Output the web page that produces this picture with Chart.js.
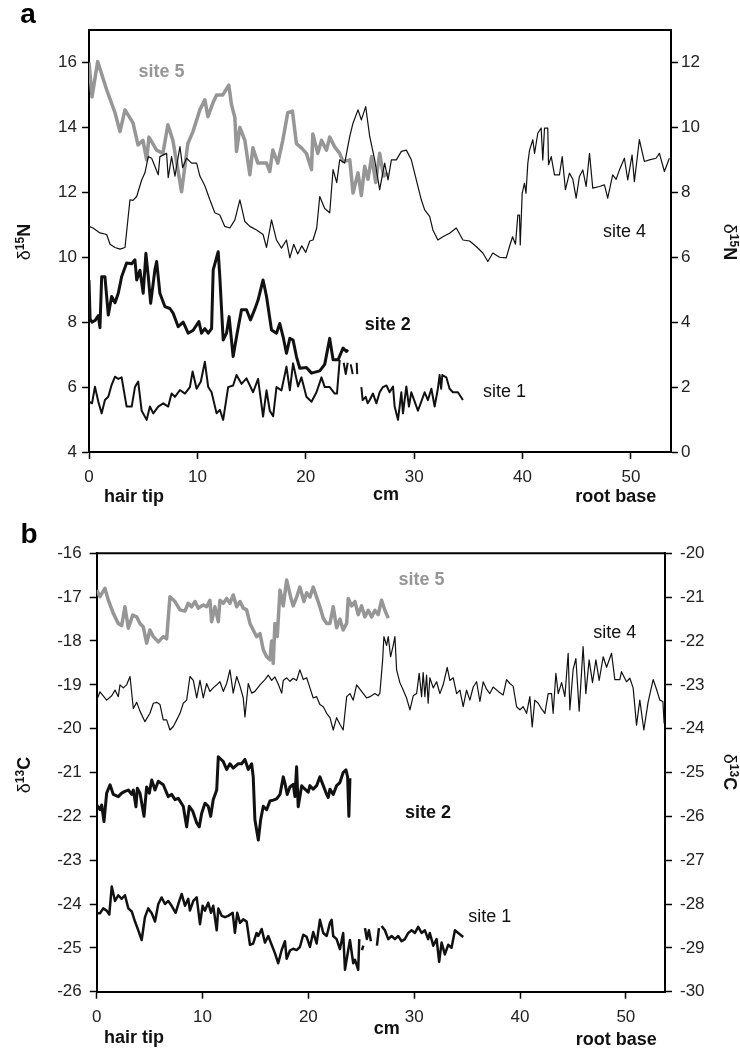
<!DOCTYPE html>
<html>
<head>
<meta charset="utf-8">
<script src="https://cdn.jsdelivr.net/npm/chart.js@4.4.1/dist/chart.umd.min.js"></script>
<style>
  html, body { margin: 0; padding: 0; background: #fff; }
  .panel { position: absolute; left: 0; width: 740px; }
  #panelA { top: 0; height: 520px; }
  #panelB { top: 520px; height: 533px; }
</style>
</head>
<body>
<div class="panel" id="panelA"><canvas id="chartA"></canvas></div>
<div class="panel" id="panelB"><canvas id="chartB"></canvas></div>
<script>
// tick labels
const xTicks = [0, 10, 20, 30, 40, 50];
const nLeftTicks = [4, 6, 8, 10, 12, 14, 16];
const nRightTicks = [0, 2, 4, 6, 8, 10, 12];
const cLeftTicks = [-26, -25, -24, -23, -22, -21, -20, -19, -18, -17, -16];
const cRightTicks = [-30, -29, -28, -27, -26, -25, -24, -23, -22, -21, -20];

// panel a, d15N: [cm from hair tip, value]  (site 4 read on the right axis)
const site5N = [[0,16.0],[0.28,14.94],[0.8,16.03],[1.63,15.16],[2.4,14.45],[2.86,13.87],[3.32,14.54],[4.06,14.14],[4.52,13.46],[4.98,13.6],[5.32,13.0],[5.53,13.7],[6.24,13.3],[6.82,13.2],[7.28,14.08],[7.74,13.6],[8.54,12.02],[9.12,13.5],[9.59,13.87],[10.23,14.54],[10.69,14.85],[10.97,14.33],[11.43,14.75],[11.77,15.0],[12.35,15.0],[12.9,15.3],[13.15,14.7],[13.46,14.3],[13.61,13.26],[13.92,14.0],[14.38,13.6],[14.84,12.54],[15.12,13.37],[15.58,12.9],[16.38,12.9],[16.68,12.64],[16.96,13.3],[17.42,12.9],[17.88,13.6],[18.34,14.45],[18.77,14.5],[19.14,13.5],[19.6,13.37],[20.06,13.2],[20.53,12.7],[20.65,13.8],[21.11,13.2],[21.45,13.6],[21.91,13.3],[22.21,13.7],[22.67,13.4],[23.13,13.2],[23.44,12.95],[24.06,13.0],[24.36,11.98],[24.82,12.6],[25.13,11.9],[25.44,12.8],[25.74,12.4],[26.08,13.1],[26.45,12.3],[26.82,13.2],[27.19,12.5],[27.56,12.6]];

const site4N = [[0,6.95],[0.37,6.9],[1.01,6.75],[1.63,6.7],[1.94,6.4],[2.4,6.3],[2.86,6.25],[3.32,6.3],[3.78,7.77],[4.06,7.75],[4.4,7.87],[4.86,8.38],[5.16,8.6],[5.47,9.1],[5.78,9.05],[6.39,8.54],[6.54,9.1],[7.16,9.2],[7.31,8.45],[7.62,9.1],[7.93,8.5],[8.39,9.41],[8.64,8.76],[9.0,9.05],[9.47,8.9],[9.93,8.9],[10.23,8.5],[10.69,8.2],[11.15,7.77],[11.61,7.37],[12.07,7.3],[12.53,6.95],[13.0,6.9],[13.46,7.15],[13.92,7.77],[14.38,7.1],[14.84,6.95],[15.46,6.84],[16.06,6.7],[16.38,6.3],[16.84,7.15],[17.3,6.53],[17.76,6.28],[18.22,6.53],[18.53,5.98],[18.89,6.4],[19.26,6.1],[19.63,6.35],[20.0,6.15],[20.37,6.5],[20.67,6.53],[21.01,6.9],[21.29,7.87],[21.75,7.5],[22.21,7.37],[22.52,8.7],[22.86,8.3],[23.13,9.0],[23.59,8.9],[24.06,9.72],[24.36,10.13],[24.82,10.54],[25.13,10.23],[25.53,10.64],[25.9,9.72],[26.36,9.0],[26.82,8.08],[27.28,8.9],[27.59,8.38],[27.9,9.0],[28.36,9.0],[28.82,9.26],[29.28,9.3],[29.74,9.0],[30.2,8.38],[30.66,7.77],[30.97,7.46],[31.43,7.26],[31.73,6.84],[32.19,6.53],[32.65,6.63],[33.27,6.74],[33.89,6.9],[34.5,6.53],[35.12,6.5],[35.73,6.33],[36.34,6.13],[36.8,5.87],[37.26,6.13],[37.88,6.0],[38.5,5.98],[38.8,6.33],[39.08,6.63],[39.35,6.4],[39.57,7.3],[39.72,7.3],[39.79,6.38],[39.97,7.97],[40.18,8.28],[40.32,7.97],[40.49,8.9],[40.65,9.3],[40.95,9.62],[41.11,9.2],[41.41,9.82],[41.72,9.98],[41.87,9.0],[42.03,9.98],[42.33,9.98],[42.4,8.85],[42.65,9.1],[42.95,8.54],[43.41,8.54],[43.66,9.1],[43.96,8.08],[44.33,8.59],[44.64,8.4],[44.95,7.82],[45.25,8.49],[45.56,8.69],[45.87,8.18],[46.18,9.2],[46.48,8.13],[47.1,8.18],[47.56,8.23],[47.86,7.82],[48.32,8.54],[48.64,8.4],[48.94,8.69],[49.4,9.05],[49.71,8.38],[50.11,9.15],[50.32,8.33],[50.78,9.62],[51.24,8.95],[51.71,9.0],[52.32,9.05],[52.63,9.2],[53.09,8.64],[53.55,9.05]];

const site2N = [[0,9.3],[0.1,8.1],[0.28,8.0],[0.55,8.05],[0.86,8.2],[1.01,7.83],[1.17,9.4],[1.47,9.4],[1.78,8.22],[2.09,8.79],[2.4,8.6],[2.7,8.89],[3.01,9.4],[3.47,9.82],[3.94,9.8],[4.24,9.92],[4.4,9.3],[4.7,9.6],[5.0,8.89],[5.25,10.12],[5.47,9.4],[5.69,8.58],[6.08,9.61],[6.24,9.87],[6.54,8.89],[7.0,8.48],[7.47,8.42],[7.77,8.27],[8.23,7.86],[8.69,8.0],[9.15,7.66],[9.61,7.75],[10.14,8.02],[10.38,7.66],[10.69,7.8],[11.0,7.66],[11.31,7.8],[11.46,9.61],[11.92,10.17],[12.07,9.4],[12.38,7.45],[12.69,7.66],[12.93,8.17],[13.3,6.94],[13.67,7.66],[14.07,8.38],[14.53,8.38],[14.9,8.07],[15.3,8.4],[15.6,8.68],[16.06,9.3],[16.38,8.79],[16.84,7.76],[17.3,7.66],[17.6,7.96],[17.91,7.55],[18.22,7.04],[18.53,7.5],[18.83,7.45],[19.14,6.94],[19.45,6.58],[20.06,6.6],[20.53,6.43],[21.29,6.5],[21.75,6.7],[22.21,7.5],[22.52,6.84],[22.98,6.84],[23.44,7.2],[23.75,7.1],[23.9,7.15]];

const site1N = [[0,5.55],[0.28,5.5],[0.55,6.01],[0.86,5.55],[1.17,5.19],[1.47,5.6],[1.78,5.7],[2.09,6.07],[2.4,6.32],[2.7,6.25],[3.01,6.3],[3.47,5.4],[3.94,5.4],[4.24,6.0],[4.54,6.17],[4.86,5.27],[5.32,4.99],[5.62,5.4],[5.93,5.19],[6.39,5.4],[6.85,5.5],[7.31,5.4],[7.62,5.8],[7.93,5.7],[8.39,5.91],[8.85,5.8],[9.31,6.0],[9.56,6.48],[9.93,5.95],[10.32,6.17],[10.69,6.78],[11.0,6.0],[11.31,5.84],[11.77,5.19],[12.07,5.3],[12.38,4.99],[12.84,6.0],[13.3,6.05],[13.61,6.37],[14.07,6.1],[14.53,6.27],[15.14,5.84],[15.6,6.25],[16.06,5.09],[16.38,5.9],[16.68,5.27],[16.99,5.1],[17.3,6.0],[17.76,5.9],[18.22,6.63],[18.53,5.9],[18.83,6.73],[19.29,6.02],[19.6,6.3],[20.06,5.7],[20.53,5.55],[20.99,5.84],[21.45,6.3],[21.75,6.0],[22.21,6.0],[22.67,5.8],[22.88,5.8],[23.13,6.84],[23.3,null],[23.5,6.75],[23.69,6.4],[23.87,6.75],[24.0,null],[24.15,6.7],[24.33,6.4],[24.5,null],[24.7,6.75],[24.75,6.4],[25.0,null],[25.13,6.0],[25.25,5.6],[25.53,5.7],[25.71,5.5],[25.9,5.6],[26.2,5.8],[26.52,5.5],[26.82,5.84],[27.12,6.0],[27.44,6.05],[27.74,5.84],[28.05,6.02],[28.2,5.4],[28.51,4.99],[28.82,5.84],[28.97,5.19],[29.28,6.02],[29.52,5.4],[29.74,5.84],[30.05,5.55],[30.35,5.27],[30.66,5.55],[30.97,5.84],[31.27,5.6],[31.59,5.95],[31.89,5.4],[32.19,5.95],[32.35,6.37],[32.49,5.95],[32.6,6.37],[32.97,6.3],[33.27,5.95],[33.58,5.84],[34.04,5.84],[34.5,5.6]];

// panel b, d13C: [cm from hair tip, value]  (site 4 read on the right axis)
const site5C = [[0,-16.84],[0.31,-16.99],[0.78,-16.8],[1.1,-17.07],[1.57,-17.37],[2.04,-17.6],[2.36,-17.65],[2.67,-17.22],[2.99,-17.71],[3.4,-17.41],[3.78,-17.45],[4.09,-17.6],[4.4,-17.68],[4.72,-18.05],[5.03,-17.75],[5.35,-17.9],[5.82,-18.02],[6.29,-17.9],[6.61,-17.95],[6.92,-16.99],[7.4,-17.1],[7.87,-17.29],[8.34,-17.32],[8.65,-17.14],[8.97,-17.22],[9.29,-17.1],[9.6,-17.25],[10.07,-17.18],[10.39,-17.22],[10.7,-17.07],[10.86,-17.56],[11.17,-17.22],[11.49,-17.56],[11.65,-17.07],[11.96,-17.14],[12.28,-17.03],[12.59,-17.14],[12.9,-16.95],[13.23,-17.22],[13.54,-17.1],[13.85,-17.25],[14.17,-17.29],[14.48,-17.6],[14.79,-17.75],[15.11,-17.9],[15.43,-17.83],[15.74,-18.2],[16.06,-18.36],[16.37,-18.43],[16.53,-18.0],[16.68,-18.51],[16.84,-17.6],[17.06,-17.9],[17.32,-16.84],[17.63,-17.2],[17.95,-16.61],[18.33,-17.0],[18.57,-17.2],[18.89,-17.0],[19.2,-16.77],[19.58,-17.1],[19.84,-16.9],[20.15,-17.0],[20.46,-16.77],[20.78,-17.0],[21.09,-17.22],[21.41,-17.48],[21.73,-17.6],[22.04,-17.6],[22.35,-17.22],[22.67,-17.7],[22.98,-17.5],[23.29,-17.75],[23.62,-17.6],[23.77,-17.03],[24.09,-17.2],[24.4,-17.1],[24.71,-17.4],[25.03,-17.2],[25.34,-17.45],[25.66,-17.3],[25.98,-17.45],[26.29,-17.3],[26.6,-17.4],[26.92,-17.07],[27.23,-17.3],[27.55,-17.48]];

const site4C = [[0,-23.35],[0.31,-23.16],[0.94,-23.35],[1.42,-23.25],[1.73,-23.12],[2.04,-23.27],[2.2,-23.0],[2.51,-23.07],[2.83,-23.0],[3.15,-22.81],[3.46,-23.54],[3.78,-23.4],[4.09,-23.6],[4.56,-23.84],[5.03,-23.65],[5.35,-23.42],[5.67,-23.4],[5.98,-23.45],[6.29,-23.8],[6.61,-23.8],[6.92,-24.03],[7.24,-23.95],[7.56,-23.8],[7.87,-23.65],[8.18,-23.42],[8.5,-23.35],[8.81,-22.81],[9.13,-22.9],[9.45,-23.3],[9.76,-22.9],[10.07,-23.3],[10.39,-22.97],[10.7,-23.15],[11.01,-23.07],[11.34,-23.0],[11.65,-22.93],[11.96,-23.15],[12.28,-22.97],[12.59,-22.66],[12.9,-23.19],[13.23,-22.81],[13.54,-23.03],[13.85,-23.3],[14.01,-23.73],[14.32,-22.97],[14.64,-23.19],[14.95,-23.15],[15.43,-23.0],[15.9,-22.88],[16.21,-22.78],[16.53,-22.9],[16.84,-22.82],[17.15,-22.98],[17.48,-23.19],[17.63,-22.9],[17.95,-22.84],[18.26,-22.92],[18.57,-22.85],[18.89,-22.9],[19.2,-22.66],[19.52,-22.88],[19.84,-22.84],[20.15,-23.07],[20.46,-23.3],[20.78,-23.27],[21.09,-23.45],[21.41,-23.5],[21.73,-23.65],[22.04,-23.75],[22.35,-24.03],[22.67,-23.75],[22.98,-23.9],[23.29,-24.03],[23.62,-23.27],[23.93,-23.2],[24.24,-23.35],[24.56,-23.0],[25.03,-23.15],[25.5,-23.3],[25.82,-23.27],[26.29,-23.2],[26.6,-23.25],[26.76,-23.19],[27.02,-22.43],[27.14,-21.9],[27.39,-22.1],[27.55,-21.9],[27.77,-22.36],[28.02,-22.1],[28.18,-21.9],[28.34,-22.66],[28.65,-22.95],[28.96,-23.12],[29.28,-23.3],[29.6,-23.57],[29.91,-23.25],[30.23,-23.2],[30.47,-22.74],[30.7,-23.27],[30.85,-22.72],[31.01,-23.27],[31.17,-22.78],[31.32,-23.42],[31.48,-22.84],[31.8,-23.07],[32.12,-22.93],[32.43,-23.2],[32.74,-23.0],[33.12,-22.6],[33.37,-22.9],[33.69,-22.84],[34.01,-23.2],[34.32,-23.12],[34.63,-23.5],[34.95,-23.12],[35.26,-23.35],[35.58,-23.05],[35.9,-22.93],[36.21,-23.38],[36.52,-22.93],[36.84,-23.1],[37.15,-23.2],[37.46,-23.05],[37.94,-23.15],[38.41,-23.23],[38.73,-22.88],[39.04,-22.97],[39.35,-23.03],[39.68,-23.5],[39.99,-23.57],[40.3,-23.5],[40.62,-23.65],[40.93,-23.27],[41.15,-23.96],[41.4,-23.35],[41.72,-23.42],[42.04,-23.55],[42.35,-23.65],[42.66,-23.2],[42.98,-23.2],[43.13,-23.65],[43.39,-22.74],[43.61,-23.2],[43.93,-22.95],[44.24,-23.27],[44.55,-22.28],[44.71,-23.57],[45.02,-22.65],[45.28,-22.4],[45.59,-23.6],[45.96,-22.13],[46.22,-23.2],[46.53,-22.43],[46.85,-22.95],[47.17,-22.43],[47.48,-22.9],[47.86,-22.36],[48.18,-22.6],[48.65,-22.28],[48.96,-22.88],[49.43,-22.88],[49.59,-22.7],[50.06,-22.93],[50.38,-22.85],[50.69,-23.07],[51.01,-23.92],[51.32,-23.35],[51.7,-24.03],[52.1,-23.4],[52.58,-22.88],[52.9,-23.1],[53.21,-23.35],[53.5,-23.38],[53.62,-23.88]];

const site2C = [[0,-21.74],[0.31,-21.85],[0.47,-21.74],[0.69,-22.12],[0.94,-21.47],[1.26,-21.28],[1.57,-21.5],[2.04,-21.55],[2.36,-21.47],[2.67,-21.43],[2.99,-21.4],[3.31,-21.5],[3.46,-21.4],[3.71,-21.78],[3.84,-21.36],[4.09,-21.47],[4.47,-22.0],[4.72,-21.33],[4.97,-21.47],[5.2,-21.17],[5.51,-21.4],[5.82,-21.2],[6.29,-21.28],[6.76,-21.55],[7.08,-21.5],[7.4,-21.62],[7.71,-21.59],[8.18,-21.77],[8.5,-22.24],[8.75,-21.77],[9.07,-21.88],[9.45,-22.15],[9.69,-22.24],[9.92,-21.93],[10.23,-21.7],[10.54,-21.77],[10.77,-22.0],[11.01,-21.62],[11.34,-21.4],[11.49,-20.64],[11.96,-20.75],[12.28,-20.93],[12.59,-20.8],[12.9,-20.9],[13.38,-20.8],[13.7,-20.8],[14.01,-20.7],[14.32,-20.93],[14.64,-20.8],[14.79,-21.1],[14.95,-22.08],[15.27,-22.54],[15.49,-22.08],[15.74,-21.77],[16.06,-21.85],[16.37,-21.65],[16.68,-21.63],[17.0,-21.6],[17.32,-21.5],[17.63,-21.1],[17.79,-21.25],[18.0,-21.5],[18.26,-21.33],[18.57,-21.27],[18.73,-21.55],[18.89,-20.87],[19.04,-21.78],[19.37,-21.3],[19.68,-21.38],[19.99,-21.45],[20.15,-21.3],[20.46,-21.38],[20.78,-21.3],[21.09,-21.1],[21.41,-21.3],[21.73,-21.5],[21.88,-21.57],[22.04,-21.38],[22.35,-21.5],[22.67,-21.3],[22.98,-21.23],[23.29,-21.0],[23.55,-20.94],[23.71,-21.1],[23.83,-22.0],[23.93,-21.13]];

const site1C = [[0,-24.21],[0.31,-24.21],[0.62,-24.1],[0.94,-24.15],[1.19,-24.24],[1.42,-23.6],[1.73,-23.93],[2.04,-23.8],[2.36,-23.88],[2.67,-23.8],[2.99,-24.1],[3.31,-24.17],[3.62,-24.4],[3.93,-24.6],[4.25,-24.82],[4.56,-24.3],[4.87,-24.1],[5.2,-24.21],[5.51,-24.4],[5.82,-24.0],[6.14,-23.85],[6.45,-24.0],[6.76,-23.93],[7.08,-24.04],[7.46,-24.2],[7.71,-24.0],[8.03,-23.77],[8.34,-24.04],[8.65,-23.88],[8.81,-24.15],[9.13,-23.93],[9.45,-23.85],[9.76,-24.46],[10.01,-24.04],[10.23,-24.15],[10.54,-23.97],[10.8,-24.2],[11.01,-24.04],[11.34,-24.6],[11.49,-24.1],[11.81,-24.27],[12.12,-24.3],[12.43,-24.27],[12.85,-24.2],[13.06,-24.66],[13.28,-24.2],[13.54,-24.43],[13.85,-24.35],[14.17,-24.4],[14.48,-24.93],[14.79,-24.9],[15.11,-24.66],[15.27,-24.73],[15.59,-24.57],[15.9,-24.88],[16.21,-24.73],[16.53,-24.93],[16.84,-25.12],[17.15,-25.35],[17.48,-25.05],[17.79,-24.85],[17.95,-25.25],[18.26,-25.06],[18.57,-25.02],[18.89,-25.05],[19.2,-24.98],[19.52,-24.7],[19.84,-24.75],[20.15,-24.98],[20.46,-24.64],[20.78,-24.9],[21.09,-24.36],[21.41,-24.66],[21.73,-24.73],[22.04,-24.43],[22.2,-24.36],[22.35,-24.73],[22.67,-24.8],[22.98,-25.03],[23.29,-24.66],[23.46,-25.5],[23.77,-25.05],[23.93,-24.82],[24.24,-25.35],[24.4,-25.27],[24.71,-25.5],[24.81,-24.8],[24.95,null],[25.06,-25.05],[25.2,-24.95],[25.3,null],[25.35,-24.55],[25.53,-24.8],[25.72,-24.6],[25.91,-24.85],[26.1,null],[26.48,-24.95],[26.67,-24.55],[26.8,null],[26.92,-24.5],[27.23,-24.6],[27.55,-24.8],[27.87,-24.73],[28.18,-24.8],[28.49,-24.73],[28.81,-24.85],[29.12,-24.8],[29.44,-24.66],[29.76,-24.6],[30.07,-24.66],[30.38,-24.52],[30.7,-24.66],[31.01,-24.6],[31.32,-24.8],[31.48,-24.66],[31.8,-24.95],[32.12,-24.8],[32.36,-25.32],[32.59,-24.88],[32.9,-25.15],[33.21,-24.93],[33.53,-25.0],[33.85,-24.6],[34.16,-24.66],[34.63,-24.75]];

const black = '#111';
const gray = '#969696';
const family = '"Liberation Sans", Arial, Helvetica, sans-serif';
const tickFont = { family: family, size: 17 };

const toPoints = arr => arr.map(p => ({ x: p[0], y: p[1] }));

function line(data, color, width, axisId, order) {
  return {
    data: toPoints(data),
    yAxisID: axisId,
    borderColor: color,
    borderWidth: width,
    borderJoinStyle: 'round',
    pointRadius: 0,
    tension: 0,
    fill: false,
    spanGaps: false,
    order: order
  };
}

function axis(pos, min, max, ticks, size, pad) {
  return {
    type: 'linear',
    position: pos,
    min: min,
    max: max,
    afterBuildTicks: s => { s.ticks = ticks.map(v => ({ value: v })); },
    afterFit: s => { if (pos === 'bottom') s.height = size; else s.width = size; },
    ticks: { font: tickFont, color: '#222', padding: pad, maxRotation: 0, autoSkip: false },
    grid: { drawOnChartArea: false, drawTicks: true, tickLength: 7, tickWidth: 1.5, tickColor: '#000' },
    border: { display: true, color: '#000', width: 2 }
  };
}

// rotated axis title: normal delta, bold superscript mass number and element
function drawTitle(ctx, cx, cy, angle, mass, elem) {
  const parts = [
    { t: '\u03b4', font: '18px ' + family, dy: 6 },
    { t: mass, font: 'bold 12px ' + family, dy: 0 },
    { t: elem, font: 'bold 18px ' + family, dy: 6 }
  ];
  ctx.save();
  ctx.translate(cx, cy);
  ctx.rotate(angle);
  let total = 0;
  parts.forEach(p => { ctx.font = p.font; p.w = ctx.measureText(p.t).width; total += p.w; });
  let x = -total / 2;
  ctx.textAlign = 'left';
  ctx.textBaseline = 'alphabetic';
  ctx.fillStyle = '#111';
  parts.forEach(p => { ctx.font = p.font; ctx.fillText(p.t, x, p.dy); x += p.w; });
  ctx.restore();
}

const textPlugin = {
  id: 'texts',
  afterDraw(chart, args, opts) {
    const ctx = chart.ctx;
    const area = chart.chartArea;
    const xs = chart.scales.x;
    ctx.save();
    // top of the frame
    ctx.strokeStyle = '#000';
    ctx.lineWidth = 2;
    ctx.beginPath();
    ctx.moveTo(area.left - 1, area.top);
    ctx.lineTo(area.right + 1, area.top);
    ctx.stroke();

    ctx.textAlign = 'center';
    ctx.textBaseline = 'middle';
    opts.labels.forEach(l => {
      ctx.font = (l.bold ? 'bold ' : '') + '18px ' + family;
      ctx.fillStyle = l.color || black;
      const px = xs.getPixelForValue(l.x);
      const py = l.dy !== undefined ? area.bottom + l.dy : chart.scales[l.axis].getPixelForValue(l.y);
      ctx.fillText(l.text, px, py);
    });

    ctx.font = 'bold 28px ' + family;
    ctx.fillStyle = '#000';
    ctx.fillText(opts.letter.text, opts.letter.x, opts.letter.y);

    opts.titles.forEach(t => drawTitle(ctx, t.x, t.y, t.angle, t.mass, t.elem));
    ctx.restore();
  }
};

function makeChart(id, datasets, scales, top, texts) {
  return new Chart(document.getElementById(id), {
    type: 'line',
    data: { datasets: datasets },
    options: {
      responsive: true,
      maintainAspectRatio: false,
      animation: false,
      events: [],
      layout: { padding: { top: top, left: 0, right: 0, bottom: 0 } },
      plugins: { legend: { display: false }, tooltip: { enabled: false }, texts: texts },
      scales: scales
    },
    plugins: [textPlugin]
  });
}

// panel a
makeChart('chartA', [
  line(site1N, black, 2, 'y', 1),
  line(site2N, black, 3, 'y', 1),
  line(site4N, black, 1.2, 'y2', 2),
  line(site5N, gray, 3.5, 'y', 3)
], {
  x: axis('bottom', 0, 53.7, xTicks, 68, 8),
  y: axis('left', 4, 17, nLeftTicks, 89, 5),
  y2: axis('right', 0, 13, nRightTicks, 69, 3)
}, 30, {
  labels: [
    { text: 'site 5', x: 6.7, y: 15.72, axis: 'y', bold: true, color: gray },
    { text: 'site 4', x: 49.4, y: 6.79, axis: 'y2' },
    { text: 'site 2', x: 27.56, y: 7.91, axis: 'y', bold: true },
    { text: 'site 1', x: 38.34, y: 5.86, axis: 'y' },
    { text: 'hair tip', x: 4.15, dy: 45, bold: true },
    { text: 'cm', x: 27.4, dy: 43, bold: true },
    { text: 'root base', x: 48.6, dy: 45, bold: true }
  ],
  letter: { text: 'a', x: 28, y: 15 },
  titles: [
    { x: 24, y: 242, angle: -Math.PI / 2, mass: '15', elem: 'N' },
    { x: 730, y: 242, angle: Math.PI / 2, mass: '15', elem: 'N' }
  ]
});

// panel b
makeChart('chartB', [
  line(site1C, black, 2.5, 'y', 1),
  line(site2C, black, 3, 'y', 1),
  line(site4C, black, 1.2, 'y2', 2),
  line(site5C, gray, 3.5, 'y', 3)
], {
  x: axis('bottom', 0, 53.7, xTicks, 61.3, 8),
  y: axis('left', -26, -16, cLeftTicks, 96.7, 8),
  y2: axis('right', -30, -20, cRightTicks, 75, 8)
}, 33.3, {
  labels: [
    { text: 'site 5', x: 30.7, y: -16.61, axis: 'y', bold: true, color: gray },
    { text: 'site 4', x: 48.96, y: -21.82, axis: 'y2' },
    { text: 'site 2', x: 31.3, y: -21.93, axis: 'y', bold: true },
    { text: 'site 1', x: 37.15, y: -24.29, axis: 'y' },
    { text: 'hair tip', x: 3.52, dy: 46, bold: true },
    { text: 'cm', x: 27.4, dy: 37, bold: true },
    { text: 'root base', x: 49.1, dy: 48, bold: true }
  ],
  letter: { text: 'b', x: 29, y: 15 },
  titles: [
    { x: 24, y: 255, angle: -Math.PI / 2, mass: '13', elem: 'C' },
    { x: 730, y: 252, angle: Math.PI / 2, mass: '13', elem: 'C' }
  ]
});
</script>
</body>
</html>
